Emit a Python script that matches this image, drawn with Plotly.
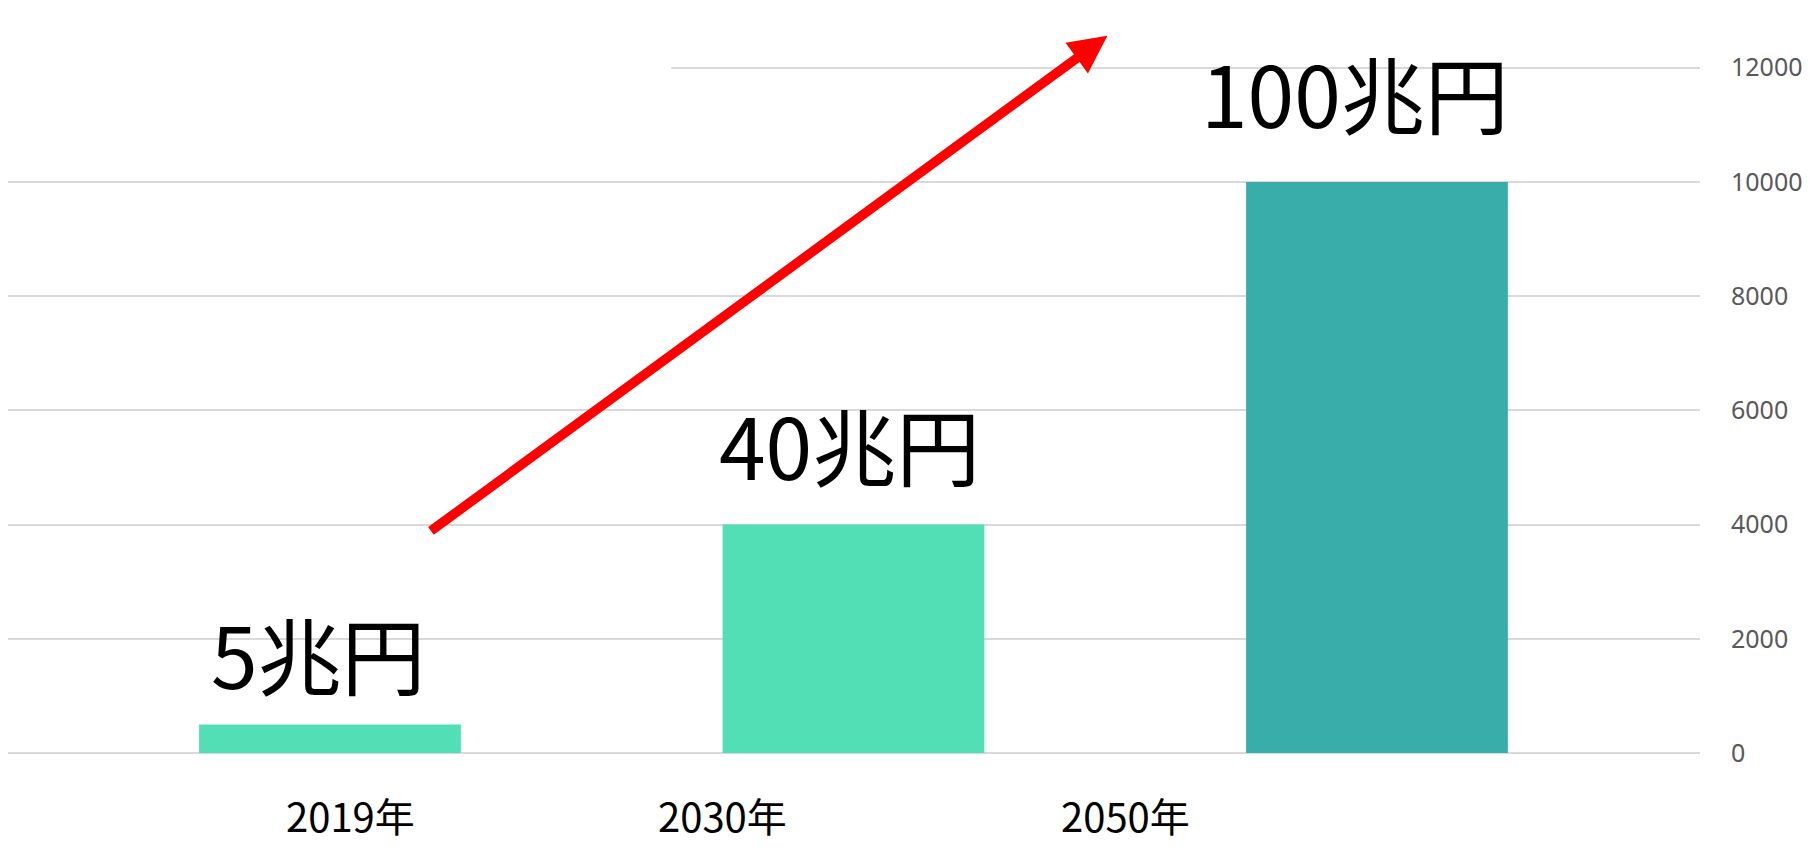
import plotly.graph_objects as go

# market size (axis unit 0..12000, labels in 兆円)
years = ["2019年", "2030年", "2050年"]
values = [500, 4000, 10000]
value_labels = ["5兆円", "40兆円", "100兆円"]
y_ticks = [0, 2000, 4000, 6000, 8000, 10000, 12000]

bar_colors = ["#52dfb5", "#52dfb5", "#38ada9"]
# where the captions sit in the original (category units / px nudges)
year_label_x = [0.04, 0.75, 1.52]
label_dx = [-11, -4, -22]
label_dy = [9, 19, 28]

fig = go.Figure()
fig.add_trace(
    go.Bar(
        x=list(range(len(years))),
        y=values,
        width=0.5,
        marker=dict(color=bar_colors, line=dict(width=0)),
        hoverinfo="skip",
    )
)

# big value labels above each bar
for i, (v, lab) in enumerate(zip(values, value_labels)):
    fig.add_annotation(
        x=i, y=v, text=lab, showarrow=False,
        xanchor="center", yanchor="bottom",
        xshift=label_dx[i], yshift=label_dy[i],
        font=dict(family="Noto Sans CJK JP", size=84, color="#000000"),
    )

# year captions under the axis
for xpos, yr in zip(year_label_x, years):
    fig.add_annotation(
        x=xpos, xref="x", y=0, yref="paper", text=yr, showarrow=False,
        xanchor="center", yanchor="middle", yshift=-62,
        font=dict(family="Noto Sans CJK JP", size=40, color="#000000"),
    )

# red growth arrow
fig.add_annotation(
    x=1.485, y=12560, ax=0.19, ay=3870,
    xref="x", yref="y", axref="x", ayref="y",
    text="", showarrow=True,
    arrowhead=2, arrowsize=0.8, arrowwidth=9.5, arrowcolor="#ff0000",
)

# the top gridline is hidden on its left part in the original
fig.add_shape(
    type="rect", xref="paper", yref="paper",
    x0=-0.01, x1=0.392, y0=0.985, y1=1.015,
    fillcolor="white", line=dict(width=0), layer="above",
)

fig.update_layout(
    width=1819, height=852,
    margin=dict(l=0, r=127, t=58, b=107),
    plot_bgcolor="white", paper_bgcolor="white",
    showlegend=False,
    xaxis=dict(
        range=[-0.615, 2.617], showticklabels=False, showgrid=False,
        zeroline=False, showline=False, ticks="",
    ),
    yaxis=dict(
        range=[0, 12030], side="right", tickvals=y_ticks, tickformat="d",
        showgrid=True, gridcolor="#d9d9d9", gridwidth=1.5,
        zeroline=True, zerolinecolor="#d9d9d9", zerolinewidth=1.5,
        showline=False, ticks="", ticklabelstandoff=30,
        tickfont=dict(family="Noto Sans", size=25, color="#595959"),
    ),
)

fig.write_html("out.html")
